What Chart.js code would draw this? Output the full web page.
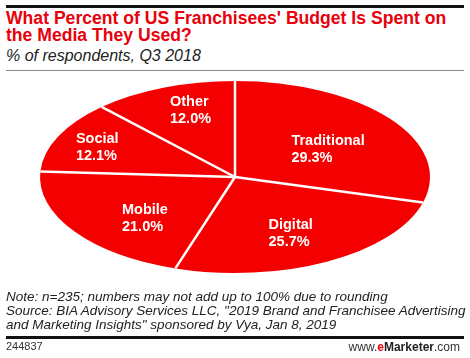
<!DOCTYPE html>
<html>
<head>
<meta charset="utf-8">
<script src="https://cdn.jsdelivr.net/npm/chart.js@4"></script>
<style>
  body { margin: 0; width: 470px; height: 358px; background: #fff; position: relative; overflow: hidden;
         font-family: "Liberation Sans", Arial, sans-serif; }
  .rule-top { position: absolute; left: 6px; top: 5px; width: 458px; height: 3px; background: #111; }
  .title { position: absolute; left: 6px; top: 10px; color: #e8000b; font-weight: bold; font-size: 17.6px; line-height: 16.5px; white-space: nowrap; }
  .subtitle { position: absolute; left: 6px; top: 47px; font-style: italic; font-size: 16px; color: #222; }
  .rule-sub { position: absolute; left: 6px; top: 70px; width: 458px; height: 1px; background: #888; }
  .notes { position: absolute; left: 6px; top: 290px; font-style: italic; font-size: 13.5px; line-height: 14px; color: #222; white-space: nowrap; }
  .rule-bot { position: absolute; left: 6px; top: 336px; width: 458px; height: 3px; background: #111; }
  .id { position: absolute; left: 6px; top: 340px; font-size: 11px; color: #333; }
  .brand { position: absolute; right: 10px; top: 340px; font-size: 12px; color: #333; }
  .brand b { color: #222; }
  .brand .e { color: #e8000b; }
  #wrap { position: absolute; left: 0; top: 72px; width: 470px; height: 218px; }
</style>
</head>
<body>
<div class="rule-top"></div>
<div class="title">What Percent of US Franchisees' Budget Is Spent on<br>the Media They Used?</div>
<div class="subtitle">% of respondents, Q3 2018</div>
<div class="rule-sub"></div>
<div id="wrap"><canvas id="chart"></canvas></div>
<div class="notes">Note: n=235; numbers may not add up to 100% due to rounding<br>Source: BIA Advisory Services LLC, "2019 Brand and Franchisee Advertising<br>and Marketing Insights" sponsored by Vya, Jan 8, 2019</div>
<div class="rule-bot"></div>
<div class="id">244837</div>
<div class="brand">www.<b class="e">e</b><b>Marketer</b>.com</div>
<script>
const categories = ['Traditional', 'Digital', 'Mobile', 'Social', 'Other'];
const shares = [29.3, 25.7, 21.0, 12.1, 12.0];

// ellipse the pie is squashed into (canvas coords)
const ELL = { cx: 235, cy: 105, rx: 195, ry: 96 };
// label placement factors along each slice's mid-angle
const labelFx = [0.6, 0.6, 0.56, 0.78, 0.62];
const labelFy = [0.47, 0.67, 0.76, 0.73, 0.75];

const ellipsePie = {
  id: 'ellipsePie',
  beforeDatasetsDraw(chart) {
    const arc = chart.getDatasetMeta(0).data[0];
    const ctx = chart.ctx;
    ctx.save();
    ctx.translate(ELL.cx, ELL.cy);
    ctx.scale(ELL.rx / arc.outerRadius, ELL.ry / arc.outerRadius);
    ctx.translate(-arc.x, -arc.y);
  },
  afterDatasetsDraw(chart) {
    const ctx = chart.ctx;
    ctx.restore();
    const arcs = chart.getDatasetMeta(0).data;
    // white separators
    ctx.save();
    ctx.strokeStyle = '#fff';
    ctx.lineWidth = 2.5;
    arcs.forEach(a => {
      ctx.beginPath();
      ctx.moveTo(ELL.cx, ELL.cy);
      ctx.lineTo(ELL.cx + ELL.rx * Math.cos(a.startAngle), ELL.cy + ELL.ry * Math.sin(a.startAngle));
      ctx.stroke();
    });
    // labels
    ctx.fillStyle = '#fff';
    ctx.font = 'bold 14.5px "Liberation Sans", Arial, sans-serif';
    ctx.textBaseline = 'middle';
    ctx.textAlign = 'left';
    arcs.forEach((a, i) => {
      const m = (a.startAngle + a.endAngle) / 2;
      const x = ELL.cx + labelFx[i] * ELL.rx * Math.cos(m);
      const y = ELL.cy + labelFy[i] * ELL.ry * Math.sin(m);
      const l1 = categories[i];
      const l2 = shares[i].toFixed(1) + '%';
      const w = Math.max(ctx.measureText(l1).width, ctx.measureText(l2).width);
      ctx.fillText(l1, x - w / 2, y - 8.5);
      ctx.fillText(l2, x - w / 2, y + 8.5);
    });
    ctx.restore();
  }
};

new Chart(document.getElementById('chart'), {
  type: 'pie',
  data: {
    labels: categories,
    datasets: [{
      data: shares,
      backgroundColor: '#f50000',
      borderWidth: 0
    }]
  },
  options: {
    responsive: true,
    maintainAspectRatio: false,
    animation: false,
    events: [],
    layout: { padding: 4 },
    plugins: { legend: { display: false }, tooltip: { enabled: false } }
  },
  plugins: [ellipsePie]
});
</script>
</body>
</html>
